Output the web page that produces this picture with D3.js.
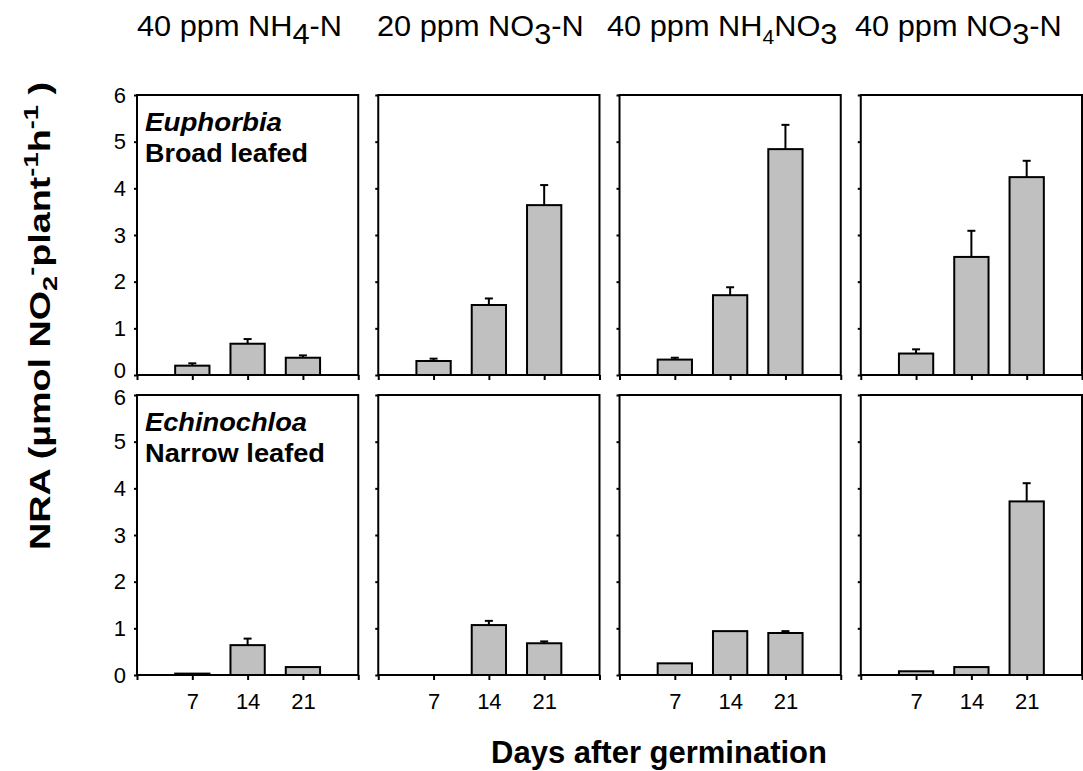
<!DOCTYPE html>
<html>
<head>
<meta charset="utf-8">
<script src="https://cdn.jsdelivr.net/npm/d3@7"></script>
<style>
  html, body { margin: 0; padding: 0; background: #fff; }
  text { font-family: Arial, "Liberation Sans", sans-serif; fill: #000; }
</style>
</head>
<body>
<svg id="chart" width="1083" height="771"></svg>
<script>
// ---------------- data ----------------
const days = [7, 14, 21];
const xTicks = [0, 7, 14, 21, 28];
const yTicks = [0, 1, 2, 3, 4, 5, 6];

// column titles: pieces [text, "sub" | "sub2" | null]
const treatments = ["NH4-N 40", "NO3-N 20", "NH4NO3 40", "NO3-N 40"];
const treatmentTitles = [
  [["40 ppm NH", null], ["4", "sub"], ["-N", null]],
  [["20 ppm NO", null], ["3", "sub"], ["-N", null]],
  [["40 ppm NH", null], ["4", "sub2"], ["NO", null], ["3", "sub"]],
  [["40 ppm NO", null], ["3", "sub"], ["-N", null]]
];

const species = ["Euphorbia", "Echinochloa"];
const speciesLabel = ["Broad leafed", "Narrow leafed"];

// NRA means (rows: treatment, cols: day 7,14,21)
const euphorbiaMean = [
  [0.20, 0.67, 0.37],
  [0.30, 1.50, 3.64],
  [0.33, 1.71, 4.84],
  [0.46, 2.53, 4.24]
];
const euphorbiaErr = [
  [0.05, 0.10, 0.05],
  [0.05, 0.14, 0.43],
  [0.04, 0.17, 0.52],
  [0.09, 0.56, 0.35]
];
const echinochloaMean = [
  [0.03, 0.64, 0.17],
  [0.00, 1.07, 0.68],
  [0.25, 0.94, 0.90],
  [0.08, 0.17, 3.72]
];
const echinochloaErr = [
  [0.00, 0.14, 0.00],
  [0.00, 0.09, 0.04],
  [0.00, 0.00, 0.04],
  [0.00, 0.00, 0.39]
];

const xTitle = "Days after germination";

// ---------------- layout ----------------
const svg = d3.select("#chart");
const colScale = d3.scaleBand().domain(treatments).range([137, 1082]).paddingInner(0.083);
const rowScale = d3.scaleBand().domain(species).range([95, 675]).paddingInner(0.0667);
const pw = colScale.bandwidth();
const ph = rowScale.bandwidth();
const x = d3.scaleLinear().domain([0, 28]).range([0, pw]);
const y = d3.scaleLinear().domain([0, 6]).range([ph, 0]);
const barW = 0.62 * (x(7) - x(0));
const capW = 8;

const means = [euphorbiaMean, echinochloaMean];
const errs = [euphorbiaErr, echinochloaErr];

species.forEach((sp, ri) => {
  treatments.forEach((tr, ci) => {
    const g = svg.append("g")
      .attr("transform", `translate(${colScale(tr)},${rowScale(sp)})`);

    // y axis (ticks outward on left)
    const yAx = d3.axisLeft(y).tickValues(yTicks).tickSize(3).tickPadding(8)
      .tickFormat(ci === 0 ? d3.format("d") : () => "");
    const yg = g.append("g").call(yAx);
    yg.select(".domain").remove();
    yg.selectAll("line").attr("stroke", "#000").attr("stroke-width", 2);
    yg.selectAll("text").style("font-size", "22px").attr("fill", "#000");
    // keep the top row's "0" and the bottom row's "6" apart, as in the reference
    yg.selectAll(".tick text")
      .filter(d => (ri === 0 && d === 0) || (ri === 1 && d === 6))
      .attr("dy", d => d === 0 ? "0.1em" : "0.45em");

    // x axis
    const xAx = d3.axisBottom(x).tickValues(xTicks).tickSize(5).tickPadding(13)
      .tickFormat(d => (ri === 1 && days.includes(d)) ? String(d) : "");
    const xg = g.append("g").attr("transform", `translate(0,${ph})`).call(xAx);
    xg.select(".domain").remove();
    xg.selectAll("line").attr("stroke", "#000").attr("stroke-width", 2);
    xg.selectAll("text").style("font-size", "22px").attr("fill", "#000");

    // bars
    const data = days.map((d, i) => ({ d, m: means[ri][ci][i], e: errs[ri][ci][i] }));
    g.selectAll("rect.bar").data(data.filter(o => o.m > 0)).join("rect")
      .attr("class", "bar")
      .attr("x", o => x(o.d) - barW / 2)
      .attr("y", o => y(o.m))
      .attr("width", barW)
      .attr("height", o => y(0) - y(o.m))
      .attr("fill", "#c0c0c0")
      .attr("stroke", "#000")
      .attr("stroke-width", 2);

    // error bars
    const eb = data.filter(o => o.e > 0);
    g.selectAll("line.err").data(eb).join("line")
      .attr("class", "err")
      .attr("x1", o => x(o.d)).attr("x2", o => x(o.d))
      .attr("y1", o => y(o.m)).attr("y2", o => y(o.m + o.e))
      .attr("stroke", "#000").attr("stroke-width", 2);
    g.selectAll("line.cap").data(eb).join("line")
      .attr("class", "cap")
      .attr("x1", o => x(o.d) - capW / 2).attr("x2", o => x(o.d) + capW / 2)
      .attr("y1", o => y(o.m + o.e)).attr("y2", o => y(o.m + o.e))
      .attr("stroke", "#000").attr("stroke-width", 2);

    // frame
    g.append("rect").attr("x", 0).attr("y", 0).attr("width", pw).attr("height", ph)
      .attr("fill", "none").attr("stroke", "#000").attr("stroke-width", 2);

    // species label
    if (ci === 0) {
      g.append("text").attr("x", 8).attr("y", 36)
        .style("font-size", "25px").style("font-weight", "bold").style("font-style", "italic")
        .attr("textLength", ri === 0 ? 137 : 162).attr("lengthAdjust", "spacingAndGlyphs")
        .text(sp);
      g.append("text").attr("x", 8).attr("y", 67)
        .style("font-size", "25px").style("font-weight", "bold")
        .attr("textLength", ri === 0 ? 163 : 180).attr("lengthAdjust", "spacingAndGlyphs")
        .text(speciesLabel[ri]);
    }
  });
});

// column titles
const titleX = [137, 377, 607, 855];
treatmentTitles.forEach((pieces, ci) => {
  const t = svg.append("text")
    .attr("transform", `translate(${titleX[ci]},36) scale(1.06,1)`)
    .style("font-size", "29px");
  let shifted = 0;
  pieces.forEach(([txt, kind]) => {
    const ts = t.append("tspan").text(txt);
    let dy = 0;
    if (kind) { dy = 8 - shifted; shifted = 8; }
    else if (shifted) { dy = -shifted; shifted = 0; }
    if (dy) ts.attr("dy", dy);
    if (kind === "sub2") ts.style("font-size", "20px");
  });
});

// y title (stretched along its length to match the reference)
const yt = svg.append("text")
  .attr("transform", "translate(50,316) rotate(-90) scale(1.3,1)")
  .attr("text-anchor", "middle")
  .style("font-size", "29px").style("font-weight", "bold");
yt.append("tspan").text("NRA (µmol NO");
yt.append("tspan").text("2").attr("dy", 7).style("font-size", "21px");
yt.append("tspan").text("-").attr("dy", -19).style("font-size", "21px");
yt.append("tspan").text("plant").attr("dy", 12);
yt.append("tspan").text("-1").attr("dy", -12).style("font-size", "21px");
yt.append("tspan").text("h").attr("dy", 12);
yt.append("tspan").text("-1").attr("dy", -12).style("font-size", "21px");
yt.append("tspan").text(" )").attr("dy", 12);

// x title
svg.append("text").attr("x", 659).attr("y", 763).attr("text-anchor", "middle")
  .style("font-size", "31px").style("font-weight", "bold").text(xTitle);
</script>
</body>
</html>
